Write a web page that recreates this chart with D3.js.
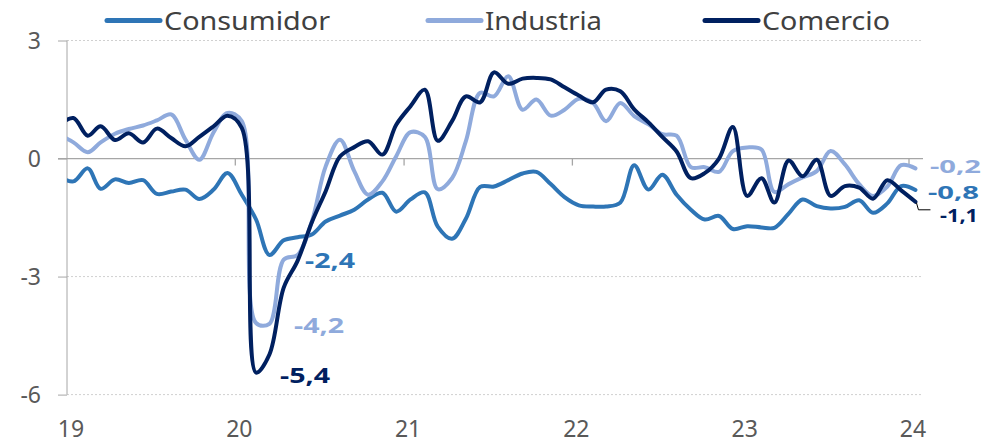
<!DOCTYPE html>
<html><head><meta charset="utf-8">
<script src="https://cdn.jsdelivr.net/npm/d3@7"></script>
<style>html,body{margin:0;padding:0;background:#fff;}svg{display:block;}</style>
</head><body>
<div id="chart"></div>
<script>
// Series values, monthly (mid-month), Dec 2018 .. Jan 2024
const consumidor = [-0.45,-0.58,-0.25,-0.77,-0.53,-0.62,-0.55,-0.90,-0.84,-0.79,-1.03,-0.79,-0.37,-0.92,-1.55,-2.45,-2.08,-2.00,-1.93,-1.60,-1.45,-1.30,-1.04,-0.87,-1.35,-1.04,-0.86,-1.73,-2.04,-1.53,-0.72,-0.71,-0.55,-0.38,-0.34,-0.65,-0.98,-1.19,-1.22,-1.22,-1.12,-0.17,-0.79,-0.41,-0.92,-1.30,-1.55,-1.46,-1.79,-1.72,-1.75,-1.76,-1.40,-1.04,-1.21,-1.27,-1.23,-1.06,-1.38,-1.14,-0.70,-0.80];
const industria = [0.60,0.41,0.16,0.41,0.63,0.75,0.84,0.97,1.12,0.48,-0.03,0.67,1.16,0.95,-4.18,-4.20,-2.57,-2.45,-1.60,-0.20,0.48,-0.32,-0.92,-0.58,0.06,0.67,0.55,-0.78,-0.50,0.44,1.67,1.58,2.09,1.24,1.50,1.09,1.24,1.52,1.41,0.95,1.41,1.08,0.87,0.62,0.58,-0.22,-0.22,-0.34,0.19,0.28,0.23,-0.85,-0.65,-0.48,-0.32,0.19,-0.15,-0.65,-0.95,-0.71,-0.17,-0.25];
const comercio = [0.85,1.03,0.58,0.82,0.47,0.64,0.41,0.76,0.52,0.31,0.55,0.82,1.09,0.78,-5.44,-4.98,-3.28,-2.60,-1.62,-0.83,0.05,0.29,0.44,0.10,0.86,1.33,1.75,0.45,0.95,1.58,1.43,2.19,1.90,2.03,2.05,2.01,1.81,1.60,1.43,1.75,1.71,1.25,0.92,0.55,0.18,-0.50,-0.37,0.00,0.80,-0.95,-0.50,-1.12,-0.05,-0.45,-0.03,-0.95,-0.70,-0.74,-1.02,-0.55,-0.81,-1.10];
// Categories: mid-month dates
const months = d3.timeMonths(new Date(2018, 11, 1), new Date(2024, 1, 1)).map(d => d3.timeDay.offset(d, 14));
const yearTicks = [2019, 2020, 2021, 2022, 2023, 2024];
const yearLabels = ["19", "20", "21", "22", "23", "24"];
const yTicks = [3, 0, -3, -6];
const yTickLabels = ["3", "0", "-3", "-6"];
const seriesNames = ["Consumidor", "Industria", "Comercio"];
const seriesColors = ["#2E75B6", "#8FAADC", "#002060"];
const valueLabels = ["-2,4", "-4,2", "-5,4"];
const lastLabels = ["-0,8", "-0,2", "-1,1"];

const W = 984, H = 444;
const svg = d3.select("#chart").append("svg").attr("width", W).attr("height", H);
const x = d3.scaleTime().domain([new Date(2019, 0, 1), new Date(2024, 0, 1)]).range([67, 909]);
const y = d3.scaleLinear().domain([-6, 3]).range([394.6, 40.5]);
const FONT = "'Noto Sans', 'DejaVu Sans', sans-serif";
const gray = "#a6a6a6";

// gridlines (dotted)
svg.append("g").selectAll("line").data(yTicks.filter(d => d !== 0)).join("line")
  .attr("x1", 67).attr("x2", 921).attr("y1", d => y(d)).attr("y2", d => y(d))
  .attr("stroke", "#d0d0d0").attr("stroke-width", 1).attr("stroke-dasharray", "2,2");

// y axis
const yAxis = svg.append("g").attr("transform", "translate(67,0)")
  .call(d3.axisLeft(y).tickValues(yTicks).tickSize(9).tickFormat((d, i) => yTickLabels[i]));
yAxis.select(".domain").attr("stroke", gray).attr("d", `M0,${y(3)}V${y(-6)}`);
yAxis.selectAll(".tick line").attr("stroke", gray);
yAxis.selectAll(".tick text").attr("font-family", FONT).attr("font-size", 23).attr("fill", "#595959")
  .attr("x", -26).attr("dy", "0.36em");

// zero line
svg.append("line").attr("x1", 58).attr("x2", 923).attr("y1", y(0)).attr("y2", y(0))
  .attr("stroke", gray).attr("stroke-width", 1.3);

// x ticks on zero line
const yearDates = yearTicks.map(yr => new Date(yr, 0, 1));
svg.append("g").selectAll("line").data(yearDates.slice(1)).join("line")
  .attr("x1", d => x(d)).attr("x2", d => x(d)).attr("y1", y(0)).attr("y2", y(0) + 7)
  .attr("stroke", gray).attr("stroke-width", 1.3);

// x labels
svg.append("g").selectAll("text").data(yearDates).join("text")
  .attr("x", d => x(d) + 4).attr("y", 437).attr("text-anchor", "middle")
  .attr("font-family", FONT).attr("font-size", 23).attr("fill", "#595959")
  .text((d, i) => yearLabels[i]);

// clip
svg.append("clipPath").attr("id", "plotclip").append("rect")
  .attr("x", 67).attr("y", 0).attr("width", 900).attr("height", H);

const line = d3.line().x((d, i) => x(months[i])).y(d => y(d)).curve(d3.curveCatmullRom.alpha(0.5));
const allSeries = [consumidor, industria, comercio];
svg.append("g").attr("clip-path", "url(#plotclip)").selectAll("path").data(allSeries).join("path")
  .attr("d", d => line(d)).attr("fill", "none")
  .attr("stroke", (d, i) => seriesColors[i]).attr("stroke-width", 4)
  .attr("stroke-linejoin", "round").attr("stroke-linecap", "round");

// legend
const legendX = [107, 428, 705];
const legendW = [166, 117, 128];
const lg = svg.append("g");
seriesNames.forEach((n, i) => {
  lg.append("line").attr("x1", legendX[i]).attr("x2", legendX[i] + 53).attr("y1", 20.5).attr("y2", 20.5)
    .attr("stroke", seriesColors[i]).attr("stroke-width", 5).attr("stroke-linecap", "round");
  lg.append("text").attr("x", legendX[i] + 57).attr("y", 29.5)
    .attr("font-family", FONT).attr("font-size", 25).attr("fill", "#404040")
    .attr("textLength", legendW[i]).attr("lengthAdjust", "spacingAndGlyphs").text(n);
});

// min value labels
const minPos = [[305, 267.5], [294, 332.5], [280, 383]];
const lastPos = [[928, 198.5], [930, 173], [940, 222]];
const lbl = svg.append("g").attr("font-family", FONT).attr("font-weight", "bold");
valueLabels.forEach((t, i) => {
  lbl.append("text").attr("x", minPos[i][0]).attr("y", minPos[i][1]).attr("fill", seriesColors[i])
    .attr("font-size", 22)
    .attr("textLength", 50).attr("lengthAdjust", "spacingAndGlyphs").text(t);
});
lastLabels.forEach((t, i) => {
  lbl.append("text").attr("x", lastPos[i][0]).attr("y", lastPos[i][1]).attr("fill", seriesColors[i])
    .attr("font-size", 18)
    .attr("textLength", t === "-1,1" ? 38 : 51).attr("lengthAdjust", "spacingAndGlyphs").text(t);
});

// leader line for -1,1
const lastI = comercio.length - 1;
const lx = x(months[lastI]), ly = y(comercio[lastI]);
svg.append("path").attr("d", `M${lx + 1},${ly + 1}L${lx + 3},${ly + 8}L${lx + 15},${ly + 8}`)
  .attr("fill", "none").attr("stroke", "#000").attr("stroke-width", 1);
</script>
</body></html>
